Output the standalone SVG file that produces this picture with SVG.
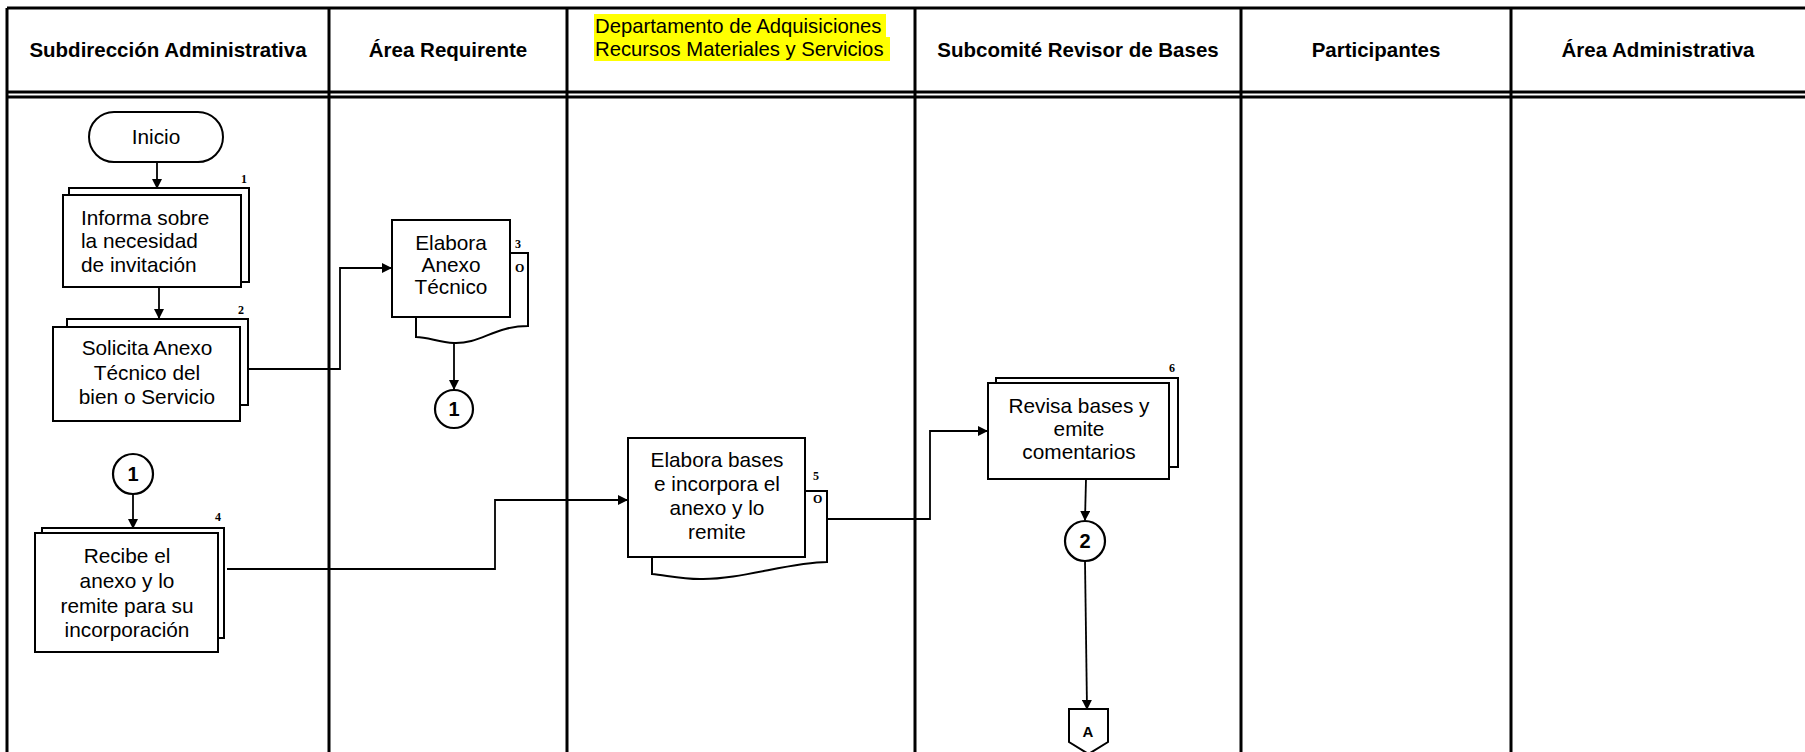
<svg xmlns="http://www.w3.org/2000/svg" width="1805" height="752" viewBox="0 0 1805 752">
<defs>
<style>
.lane{stroke:#000;stroke-width:3;fill:none}
.hdr{font-family:"Liberation Sans",Arial,sans-serif;font-weight:bold;font-size:20.5px;text-anchor:middle;fill:#000}
.hdry{font-family:"Liberation Sans",Arial,sans-serif;font-size:20.3px;fill:#000}
.box{fill:#fff;stroke:#000;stroke-width:2}
.txt{font-family:"Liberation Sans",Arial,sans-serif;font-size:20.8px;text-anchor:middle;fill:#000}
.lt{text-anchor:start}
.num{font-family:"Liberation Serif","Times New Roman",serif;font-weight:bold;font-size:12px;fill:#000}
.con{fill:none;stroke:#000;stroke-width:1.8}
.cir{fill:#fff;stroke:#000;stroke-width:2.2}
.ctx{font-family:"Liberation Sans",Arial,sans-serif;font-weight:bold;font-size:20px;text-anchor:middle;fill:#000}
</style>
<marker id="arr" markerWidth="10" markerHeight="10" refX="9" refY="5" orient="auto" markerUnits="userSpaceOnUse">
<path d="M0,0 L10,5 L0,10 z" fill="#000"/>
</marker>
</defs>
<rect x="0" y="0" width="1805" height="752" fill="#fff"/>
<g id="lanes">
<path class="lane" d="M7,8 H1805 M7,92 H1805 M7,97 H1805 M7,8 V752"/>
<path class="lane" d="M329,8 V752 M567,8 V752 M915,8 V752 M1241,8 V752 M1511,8 V752"/>
<text class="hdr" x="168" y="57">Subdirección Administrativa</text>
<text class="hdr" x="448" y="57">Área Requirente</text>
<rect x="594" y="14" width="292" height="24" fill="#ffff00"/>
<rect x="594" y="37" width="296" height="24" fill="#ffff00"/>
<text class="hdry" x="595" y="33">Departamento de Adquisiciones</text>
<text class="hdry" x="595" y="56">Recursos Materiales y Servicios</text>
<text class="hdr" x="1078" y="57">Subcomité Revisor de Bases</text>
<text class="hdr" x="1376" y="57">Participantes</text>
<text class="hdr" x="1658" y="57">Área Administrativa</text>
</g>
<g id="connectors">
<path class="con" d="M157,162 V188" marker-end="url(#arr)"/>
<path class="con" d="M159,287 V318" marker-end="url(#arr)"/>
<path class="con" d="M248,369 H340 V268 H391" marker-end="url(#arr)"/>
<path class="con" d="M454,343 V389" marker-end="url(#arr)"/>
<path class="con" d="M133,494 V528" marker-end="url(#arr)"/>
<path class="con" d="M227,569 H495 V500 H627" marker-end="url(#arr)"/>
<path class="con" d="M827,519 H930 V431 H987" marker-end="url(#arr)"/>
<path class="con" d="M1086,479 L1085,520" marker-end="url(#arr)"/>
<path class="con" d="M1085,561 L1087,709" marker-end="url(#arr)"/>
</g>
<g id="inicio">
<rect class="box" x="89" y="112" width="134" height="50" rx="25" ry="25"/>
<text class="txt" x="156" y="144">Inicio</text>
</g>
<g id="n1">
<rect class="box" x="69" y="188" width="180" height="94"/>
<rect class="box" x="63" y="195" width="178" height="92"/>
<text class="num" x="241" y="183">1</text>
<text class="txt lt" x="81" y="225">Informa sobre</text>
<text class="txt lt" x="81" y="248">la necesidad</text>
<text class="txt lt" x="81" y="272">de invitación</text>
</g>
<g id="n2">
<rect class="box" x="67" y="319" width="181" height="86"/>
<rect class="box" x="53" y="327" width="187" height="94"/>
<text class="num" x="238" y="314">2</text>
<text class="txt" x="147" y="355">Solicita Anexo</text>
<text class="txt" x="147" y="380">Técnico del</text>
<text class="txt" x="147" y="404">bien o Servicio</text>
</g>
<g id="n3">
<path class="box" d="M510,253 H528 V326 C495,326 480,344 454,343 C438,342 428,337 416,337 V317"/>
<rect class="box" x="392" y="220" width="118" height="97"/>
<text class="num" x="515" y="248">3</text>
<text class="num" x="515" y="272">O</text>
<text class="txt" x="451" y="250">Elabora</text>
<text class="txt" x="451" y="272">Anexo</text>
<text class="txt" x="451" y="294">Técnico</text>
</g>
<g id="c1a">
<circle class="cir" cx="454" cy="409" r="19"/>
<text class="ctx" x="454" y="416">1</text>
</g>
<g id="c1b">
<circle class="cir" cx="133" cy="474" r="20"/>
<text class="ctx" x="133" y="481">1</text>
</g>
<g id="n4">
<rect class="box" x="42" y="528" width="182" height="110"/>
<rect class="box" x="35" y="533" width="183" height="119"/>
<text class="num" x="215" y="521">4</text>
<text class="txt" x="127" y="563">Recibe el</text>
<text class="txt" x="127" y="588">anexo y lo</text>
<text class="txt" x="127" y="613">remite para su</text>
<text class="txt" x="127" y="637">incorporación</text>
</g>
<g id="n5">
<path class="box" d="M805,491 H827 V562 C790,562 740,580 700,579 C680,579 665,575 652,574 V557"/>
<rect class="box" x="628" y="438" width="177" height="119"/>
<text class="num" x="813" y="480">5</text>
<text class="num" x="813" y="503">O</text>
<text class="txt" x="717" y="467">Elabora bases</text>
<text class="txt" x="717" y="491">e incorpora el</text>
<text class="txt" x="717" y="515">anexo y lo</text>
<text class="txt" x="717" y="539">remite</text>
</g>
<g id="n6">
<rect class="box" x="996" y="378" width="182" height="89"/>
<rect class="box" x="988" y="383" width="181" height="96"/>
<text class="num" x="1169" y="372">6</text>
<text class="txt" x="1079" y="413">Revisa bases y</text>
<text class="txt" x="1079" y="436">emite</text>
<text class="txt" x="1079" y="459">comentarios</text>
</g>
<g id="c2">
<circle class="cir" cx="1085" cy="541" r="20"/>
<text class="ctx" x="1085" y="548">2</text>
</g>
<g id="offA">
<path class="box" d="M1069,709 H1108 V742 L1088.5,754 L1069,742 Z"/>
<text class="ctx" x="1088" y="737" style="font-size:15px">A</text>
</g>
</svg>
